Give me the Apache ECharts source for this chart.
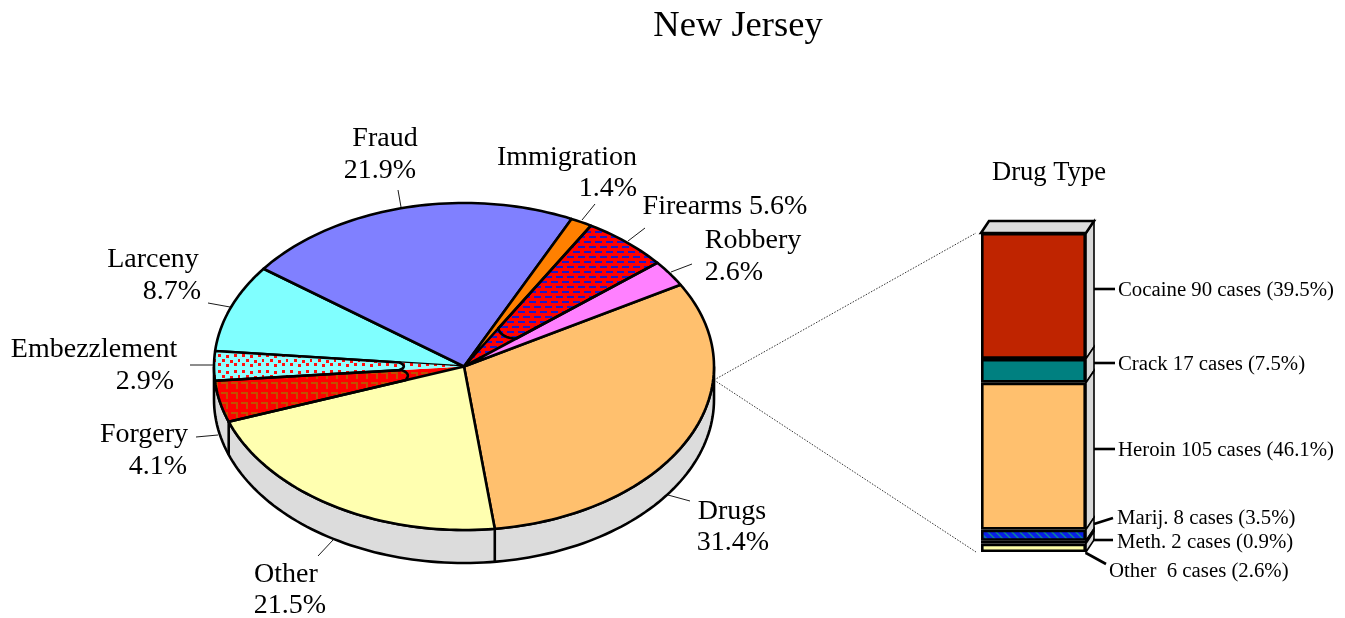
<!DOCTYPE html>
<html><head><meta charset="utf-8">
<style>html,body{margin:0;padding:0;background:#fff}#c{width:1345px;height:618px}</style>
<script src="https://cdn.jsdelivr.net/npm/echarts@6/dist/echarts.min.js"></script>
</head><body><div id="c"></div>
<script>
const pieCategories = ['Drugs','Other','Forgery','Embezzlement','Larceny','Fraud','Immigration','Firearms','Robbery'];
const piePercents = [31.4,21.5,4.1,2.9,8.7,21.9,1.4,5.6,2.6];
const drugCategories = ['Cocaine','Crack','Heroin','Marij.','Meth.','Other '];
const drugCases = [90,17,105,8,2,6];
const drugPercents = [39.5,7.5,46.1,3.5,0.9,2.6];

const FONT = '"Liberation Serif","Times New Roman",serif';
const CX = 464, CY = 366.5, RX = 250, RY = 163.5, DEPTH = 33, START = 30;
const GRAY = '#dcdcdc';
const LW = 2.6;

function pattern(w, h, bg, draw) {
  const c = document.createElement('canvas');
  c.width = w; c.height = h;
  const g = c.getContext('2d');
  g.fillStyle = bg; g.fillRect(0, 0, w, h);
  draw(g);
  return { image: c, repeat: 'repeat' };
}
const brickFill = pattern(22, 10, '#ff0000', g => {
  g.fillStyle = '#1a1ac8';
  g.fillRect(1, 1, 7, 2); g.fillRect(12, 1, 7, 2);
  g.fillRect(6, 6, 7, 2); g.fillRect(17, 6, 5, 2); g.fillRect(0, 6, 2, 2);
});
const dotFill = pattern(24, 16, '#90ffff', g => {
  g.fillStyle = '#ff1010';
  [[2,2],[10,3],[18,2],[6,7],[14,8],[22,7],[2,11],[10,12],[18,11]].forEach(p => g.fillRect(p[0], p[1], 3, 3));
});
const hookFill = pattern(10, 10, '#ff0000', g => {
  g.fillStyle = '#c05000';
  g.fillRect(1, 2, 7, 2); g.fillRect(6, 2, 2, 7);
});
const hatchFill = pattern(8, 8, '#0a1ee6', g => {
  g.strokeStyle = '#0a8a90'; g.lineWidth = 1.4;
  g.beginPath();
  g.moveTo(-2, -2); g.lineTo(10, 10); g.moveTo(-6, 2); g.lineTo(6, 14); g.moveTo(2, -6); g.lineTo(14, 6);
  g.stroke();
});

const sliceStyle = {
  Drugs:{fill:'#ffc06e'}, Other:{fill:'#ffffb0'}, Forgery:{fill:hookFill,tip:0.25,patterned:1},
  Embezzlement:{fill:dotFill,tip:0.26,patterned:1}, Larceny:{fill:'#80ffff'}, Fraud:{fill:'#8080ff'},
  Immigration:{fill:'#ff8000'}, Firearms:{fill:brickFill,tip:0.27,patterned:1}, Robbery:{fill:'#ff80ff'}
};
const drugColors = ['#bf2400','#008080','#ffc06e',hatchFill,'#000000','#ffffa8'];

const pieTotal = piePercents.reduce((a,b)=>a+b,0);
const toRad = a => a*Math.PI/180;
const rim = (deg, dy=0) => [CX+RX*Math.cos(toRad(deg)), CY-RY*Math.sin(toRad(deg))+dy];
function sweep(i) {
  let s = START;
  for (let k=0;k<i;k++) s -= piePercents[k]/pieTotal*360;
  return [s, s-piePercents[i]/pieTotal*360];
}
function arcPts(a0, a1, dy=0) {
  const n = Math.max(2, Math.ceil(Math.abs(a1-a0)/1.5));
  const out = [];
  for (let i=0;i<=n;i++) out.push(rim(a0+(a1-a0)*i/n, dy));
  return out;
}

function renderSlice(params, api) {
  const name = pieCategories[params.dataIndex];
  const st = sliceStyle[name];
  const [a0,a1] = sweep(params.dataIndex);
  const pts = [[CX,CY]].concat(arcPts(a0,a1));
  return {type:'polygon',shape:{points:pts},
    style:{fill:st.fill,stroke:st.patterned?null:'#000',lineWidth:LW,lineJoin:'round'},
    z2: st.patterned? 1 : (name==='Other'||name==='Robbery'||name==='Immigration'?3:0)};
}
const tipNames = pieCategories.filter(n=>sliceStyle[n].tip);
function renderOutline(params) {
  const name = tipNames[params.dataIndex];
  const st = sliceStyle[name];
  const [a0,a1] = sweep(pieCategories.indexOf(name));
  const arc = arcPts(a0,a1);
  const lerp = (p,t)=>[CX+(p[0]-CX)*t, CY+(p[1]-CY)*t];
  const A = arc[0], B = arc[arc.length-1];
  const a = lerp(A,st.tip), b = lerp(B,st.tip), q = lerp([(A[0]+B[0])/2,(A[1]+B[1])/2], st.tip*0.86);
  const pts = arc.slice();
  for (let k=0;k<=8;k++) {
    const t=k/8, u=1-t;
    pts.push([u*u*b[0]+2*u*t*q[0]+t*t*a[0], u*u*b[1]+2*u*t*q[1]+t*t*a[1]]);
  }
  return {type:'polygon',shape:{points:pts},style:{fill:null,stroke:'#000',lineWidth:LW,lineJoin:'round'}};
}
function renderWall() {
  const pts = arcPts(180,360).concat(arcPts(360,180,DEPTH));
  const seam = [sweep(1)[1],sweep(0)[1]].map(a=>{const p=rim(a);return {type:'line',shape:{x1:p[0],y1:p[1],x2:p[0],y2:p[1]+DEPTH},style:{stroke:'#000',lineWidth:LW}};});
  return {type:'group',children:[
    {type:'polygon',shape:{points:pts},style:{fill:GRAY,stroke:'#000',lineWidth:LW}},
    ...seam]};
}

const cum = drugCases.reduce((o,v)=>{o.push(o[o.length-1]+v);return o;},[0]);
const drugTotal = cum[cum.length-1];
const BAR_DX = 8, BAR_DY = -12;
function renderSide(params, api) {
  const i = params.dataIndex;
  const half = api.size([1,0])[0]/2;
  const p0 = api.coord([0,cum[i]]), p1 = api.coord([0,cum[i+1]]);
  const xr = p0[0]+half, xl = p0[0]-half;
  const kids = [{type:'polygon',shape:{points:[[xr,p0[1]],[xr+BAR_DX,p0[1]+BAR_DY],[xr+BAR_DX,p1[1]+BAR_DY],[xr,p1[1]]]},
    style:{fill:'#d8d8d8',stroke:'#000',lineWidth:1.6}}];
  if (i===0) kids.push({type:'polygon',shape:{points:[[xl,p0[1]],[xl+BAR_DX,p0[1]+BAR_DY],[xr+BAR_DX,p0[1]+BAR_DY],[xr,p0[1]]]},
    style:{fill:GRAY,stroke:'#000',lineWidth:LW}});
  return {type:'group',children:kids};
}

// annotation layout: text anchors and leader lines for each label
const pieLabelLayout = {
  Fraud:{x:385,y:139,x2:380,y2:171,lead:[[401,207],[398,190]]},
  Immigration:{x:567,y:158,x2:608,y2:189,lead:[[582,220],[595,204]]},
  Firearms:{x:725,y:207,single:1,lead:[[628,241],[645,228]]},
  Robbery:{x:753,y:241,x2:734,y2:273,lead:[[671,272],[692,264]]},
  Drugs:{x:732,y:512,x2:733,y2:543,lead:[[668,495],[690,501]]},
  Other:{x:286,y:575,x2:290,y2:606,lead:[[318,556],[333,540]]},
  Forgery:{x:144,y:435,x2:158,y2:467,lead:[[196,437],[218,435]]},
  Embezzlement:{x:94,y:350,x2:145,y2:382,lead:[[190,365],[214,365]]},
  Larceny:{x:153,y:260,x2:172,y2:292,lead:[[208,303],[230,307]]}
};
const PIE_FONT = 28;
const graphics = [];
const txt = (x,y,t,size,align)=>graphics.push({type:'text',x,y,z:20,style:{text:t,fill:'#000',font:size+'px '+FONT,textAlign:align||'center',textVerticalAlign:'middle'}});
const seg = (a,b,w)=>graphics.push({type:'line',z:20,shape:{x1:a[0],y1:a[1],x2:b[0],y2:b[1]},style:{stroke:'#000',lineWidth:w}});
pieCategories.forEach((n,i)=>{
  const L = pieLabelLayout[n], p = piePercents[i].toFixed(1)+'%';
  if (L.single) txt(L.x,L.y,n+' '+p,PIE_FONT);
  else { txt(L.x,L.y,n,PIE_FONT); txt(L.x2,L.y2,p,PIE_FONT); }
  seg(L.lead[0],L.lead[1],0.9);
});
txt(1049,173,'Drug Type',26.6);
const barLabelLayout = [
  {x:1118,y:291,lead:[[1094,289],[1115,289]]},
  {x:1118,y:365,lead:[[1094,363],[1115,363]]},
  {x:1118,y:451,lead:[[1094,449],[1115,449]]},
  {x:1117,y:519,lead:[[1094,524],[1113,518]]},
  {x:1117,y:543,lead:[[1093,540],[1113,540]]},
  {x:1109,y:572,lead:[[1086,553],[1106,564]]}
];
drugCategories.forEach((n,i)=>{
  const L = barLabelLayout[i];
  txt(L.x,L.y,`${n} ${drugCases[i]} cases (${drugPercents[i].toFixed(1)}%)`,20.8,'left');
  seg(L.lead[0],L.lead[1],LW);
});
[[[714,380],[976,233]],[[714,380],[976,552]]].forEach(l=>graphics.push({type:'line',z:20,shape:{x1:l[0][0],y1:l[0][1],x2:l[1][0],y2:l[1][1]},style:{stroke:'#000',lineWidth:0.8,lineDash:[1.5,1.5]}}));

const chart = echarts.init(document.getElementById('c'),null,{renderer:'canvas'});
chart.setOption({
  animation:false, backgroundColor:'#fff',
  title:{text:'New Jersey',left:733,top:3,textAlign:'center',textStyle:{fontFamily:FONT,fontSize:36.5,fontWeight:'normal',color:'#000'}},
  grid:{left:981,top:233,width:105,height:319},
  xAxis:{type:'category',data:['Drug Type'],show:false},
  yAxis:{type:'value',min:0,max:drugTotal,inverse:true,show:false},
  graphic:graphics,
  series:[
    {type:'custom',coordinateSystem:'none',silent:true,z:1,data:[1],renderItem:renderWall},
    {type:'custom',coordinateSystem:'none',silent:true,z:2,data:piePercents,renderItem:renderSlice},
    {type:'custom',coordinateSystem:'none',silent:true,z:3,data:tipNames,renderItem:renderOutline},
    {type:'custom',silent:true,z:4,data:drugCases.map(v=>[0,v]),encode:{x:0,y:1},renderItem:renderSide},
    ...drugCategories.map((n,i)=>({type:'bar',name:n,stack:'drug',z:5,barWidth:'100%',silent:true,data:[drugCases[i]],
      itemStyle:{color:drugColors[i],borderColor:'#000',borderWidth:LW}}))
  ]
});
</script></body></html>
